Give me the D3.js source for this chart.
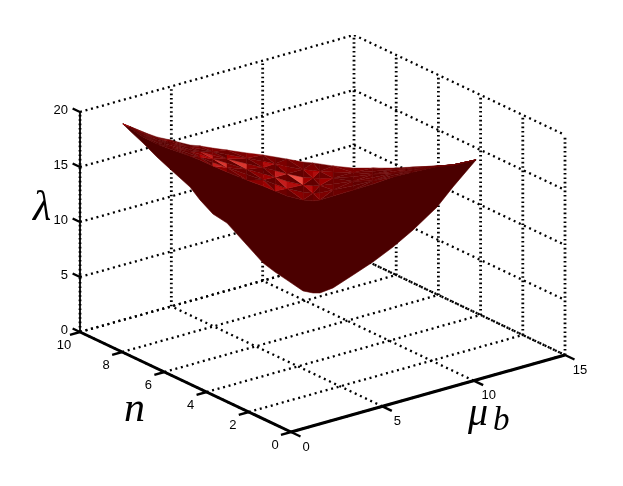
<!DOCTYPE html>
<html>
<head>
<meta charset="utf-8">
<script src="https://cdn.jsdelivr.net/npm/d3@7"></script>
<style>
  html, body { margin: 0; padding: 0; background: #fff; }
  svg { display: block; }
</style>
</head>
<body>
<svg width="623" height="486">
  <defs><filter id="soft" x="0" y="0" width="100%" height="100%"><feGaussianBlur stdDeviation="0.35"/></filter></defs>
  <rect width="623" height="486" fill="#fff"/>
  <g id="plot" filter="url(#soft)"></g>
</svg>
<script>
// axis ticks
const muTicks = [0, 5, 10, 15]
const nTicks = [0, 2, 4, 6, 8, 10]
const lambdaTicks = [0, 5, 10, 15, 20]

// surface, one entry per column
const muValues = [2.35, 2.51, 2.79, 3.10, 3.39, 3.83, 4.05, 4.33, 4.64, 5.08, 5.44, 5.70, 5.96, 6.32, 6.54, 6.69, 6.98, 7.42, 7.86, 8.30, 8.74, 9.27, 9.62, 10.13]
const nValues = [10.00, 9.80, 9.43, 9.04, 8.67, 8.10, 7.82, 7.45, 7.05, 6.49, 6.03, 5.69, 5.35, 4.90, 4.62, 4.42, 4.05, 3.48, 2.92, 2.35, 1.78, 1.10, 0.65, 0.00]
const lambdaLower = [17.81, 17.28, 16.40, 15.34, 14.45, 13.12, 12.10, 11.03, 10.42, 8.73, 7.34, 6.71, 6.17, 5.42, 5.39, 5.50, 6.16, 7.65, 9.14, 10.81, 12.67, 15.13, 17.20, 20.01]
const lambdaCrease = [17.81, 17.56, 16.94, 16.52, 16.27, 15.94, 15.73, 15.39, 15.06, 14.64, 14.34, 14.08, 13.81, 13.69, 13.76, 13.95, 14.52, 15.37, 16.23, 17.18, 17.94, 18.81, 19.20, 20.01]
const lambdaTop = [17.81, 17.69, 17.40, 17.16, 17.09, 16.94, 17.01, 17.02, 17.06, 17.10, 17.16, 17.17, 17.17, 17.15, 17.21, 17.23, 17.25, 17.37, 17.68, 17.99, 18.39, 18.86, 19.20, 20.01]

// facet brightness on the lit part, crease to top edge, two facets per column gap
const facetShades = [
  "0000101011223147234152261413241321112111111111",
  "0010100112132628231415271626142322121211111111",
  "0011010121314723182413271915132521221212111111",
  "0101120112223131251326141325262422222121211111",
  "8532123221322323232423322332323233232322222222"
]

const plot = d3.select("#plot")

// the plot box is a fixed oblique view, one scale per data axis
const xFromMu = d3.scaleLinear().domain([0, 15]).range([0, 274])
const yFromMu = d3.scaleLinear().domain([0, 15]).range([0, -77])
const xFromN = d3.scaleLinear().domain([0, 10]).range([0, -211])
const yFromN = d3.scaleLinear().domain([0, 10]).range([0, -100])
const yFromLambda = d3.scaleLinear().domain([0, 20]).range([0, -220])

function project(mu, n, lambda) {
  return [291 + xFromMu(mu) + xFromN(n), 432 + yFromMu(mu) + yFromN(n) + yFromLambda(lambda)]
}

function drawLine(a, b, cls) {
  const p = project(a[0], a[1], a[2])
  const q = project(b[0], b[1], b[2])
  return plot.append("line")
    .attr("class", cls)
    .attr("x1", p[0]).attr("y1", p[1])
    .attr("x2", q[0]).attr("y2", q[1])
    .attr("stroke", "#000")
}

function dotted(a, b, vertical) {
  drawLine(a, b, "grid")
    .attr("stroke-width", vertical ? 2.8 : 2.3)
    .attr("stroke-dasharray", vertical ? "1.6 2.8" : "2 3.7")
}

// grid on the two back walls and the floor
lambdaTicks.forEach(z => {
  dotted([0, 10, z], [15, 10, z])
  dotted([15, 10, z], [15, 0, z])
})
muTicks.forEach(m => {
  dotted([m, 10, 0], [m, 10, 20], true)
  dotted([m, 0, 0], [m, 10, 0])
})
nTicks.forEach(n => {
  if (n < 10) dotted([15, n, 0], [15, n, 20], true)
  dotted([0, n, 0], [15, n, 0])
})

// surface
const polygon = d3.line()
const column = (i, z) => project(muValues[i], nValues[i], z)

const lastCol = muValues.length - 1
const darkOutline = lambdaLower.map((z, i) => column(i, z))
  .concat(lambdaCrease.map((z, i) => column(i, z)).reverse())
plot.append("path")
  .attr("d", polygon(darkOutline) + "Z")
  .attr("fill", "#4c0000")
  .attr("stroke", "#5a0000")
  .attr("stroke-width", 0.6)

const shade = d3.scaleLinear().domain([0, 2, 4, 6, 9]).range(["#580000", "#6c0000", "#8a0000", "#b00808", "#ec4a40"])
const rows = facetShades.length
const facets = plot.append("g")
facetShades.forEach((row, r) => {
  for (let c = 0; c < lastCol; c++) {
    const at = (i, k) => column(i, lambdaCrease[i] + (lambdaTop[i] - lambdaCrease[i]) * k / rows)
    const a = at(c, r), b = at(c + 1, r), d = at(c, r + 1), e = at(c + 1, r + 1)
    const tris = (r + c) % 2 ? [[a, b, e], [a, e, d]] : [[a, b, d], [b, e, d]]
    tris.forEach((t, k) => {
      const col = shade(+row[c * 2 + k])
      facets.append("path")
        .attr("d", polygon(t) + "Z")
        .attr("fill", col)
        .attr("stroke", col)
        .attr("stroke-width", 0.4)
    })
  }
})

// axes
drawLine([0, 10, 0], [0, 10, 20], "axis").attr("stroke-width", 1.8)
drawLine([0, 0, 0], [0, 10, 0], "axis").attr("stroke-width", 3)
drawLine([0, 0, 0], [15, 0, 0], "axis").attr("stroke-width", 3)

lambdaTicks.forEach(z => drawLine([0, 10, z], [0, 10.35, z], "tick").attr("stroke-width", 2.4))
nTicks.forEach(n => drawLine([0, n, 0], [-0.55, n, 0], "tick").attr("stroke-width", 2.4))
muTicks.forEach(m => drawLine([m, 0, 0], [m, -0.45, 0], "tick").attr("stroke-width", 2.4))

// tick labels
function tickLabel(p, dx, dy, txt, anchor) {
  plot.append("text")
    .attr("x", p[0] + dx).attr("y", p[1] + dy)
    .attr("text-anchor", anchor)
    .attr("dominant-baseline", "central")
    .attr("font-family", "'Liberation Sans', sans-serif")
    .attr("font-size", 13)
    .attr("fill", "#000")
    .text(txt)
}
lambdaTicks.forEach(z => tickLabel(project(0, 10, z), -12, -3, z, "end"))
nTicks.forEach(n => tickLabel(project(0, n, 0), -16, 12, n, "middle"))
muTicks.forEach(m => tickLabel(project(m, 0, 0), 15, 14, m, "middle"))

// axis titles
function title(x, y, txt, size) {
  return plot.append("text")
    .attr("x", x).attr("y", y)
    .attr("font-family", "'Liberation Serif', serif")
    .attr("font-style", "italic")
    .attr("font-size", size)
    .attr("fill", "#000")
    .text(txt)
}
title(33, 220, "λ", 42)
title(124, 421, "n", 42)
title(468, 425, "μ", 40)
title(493, 430, "b", 33)
</script>
</body>
</html>
